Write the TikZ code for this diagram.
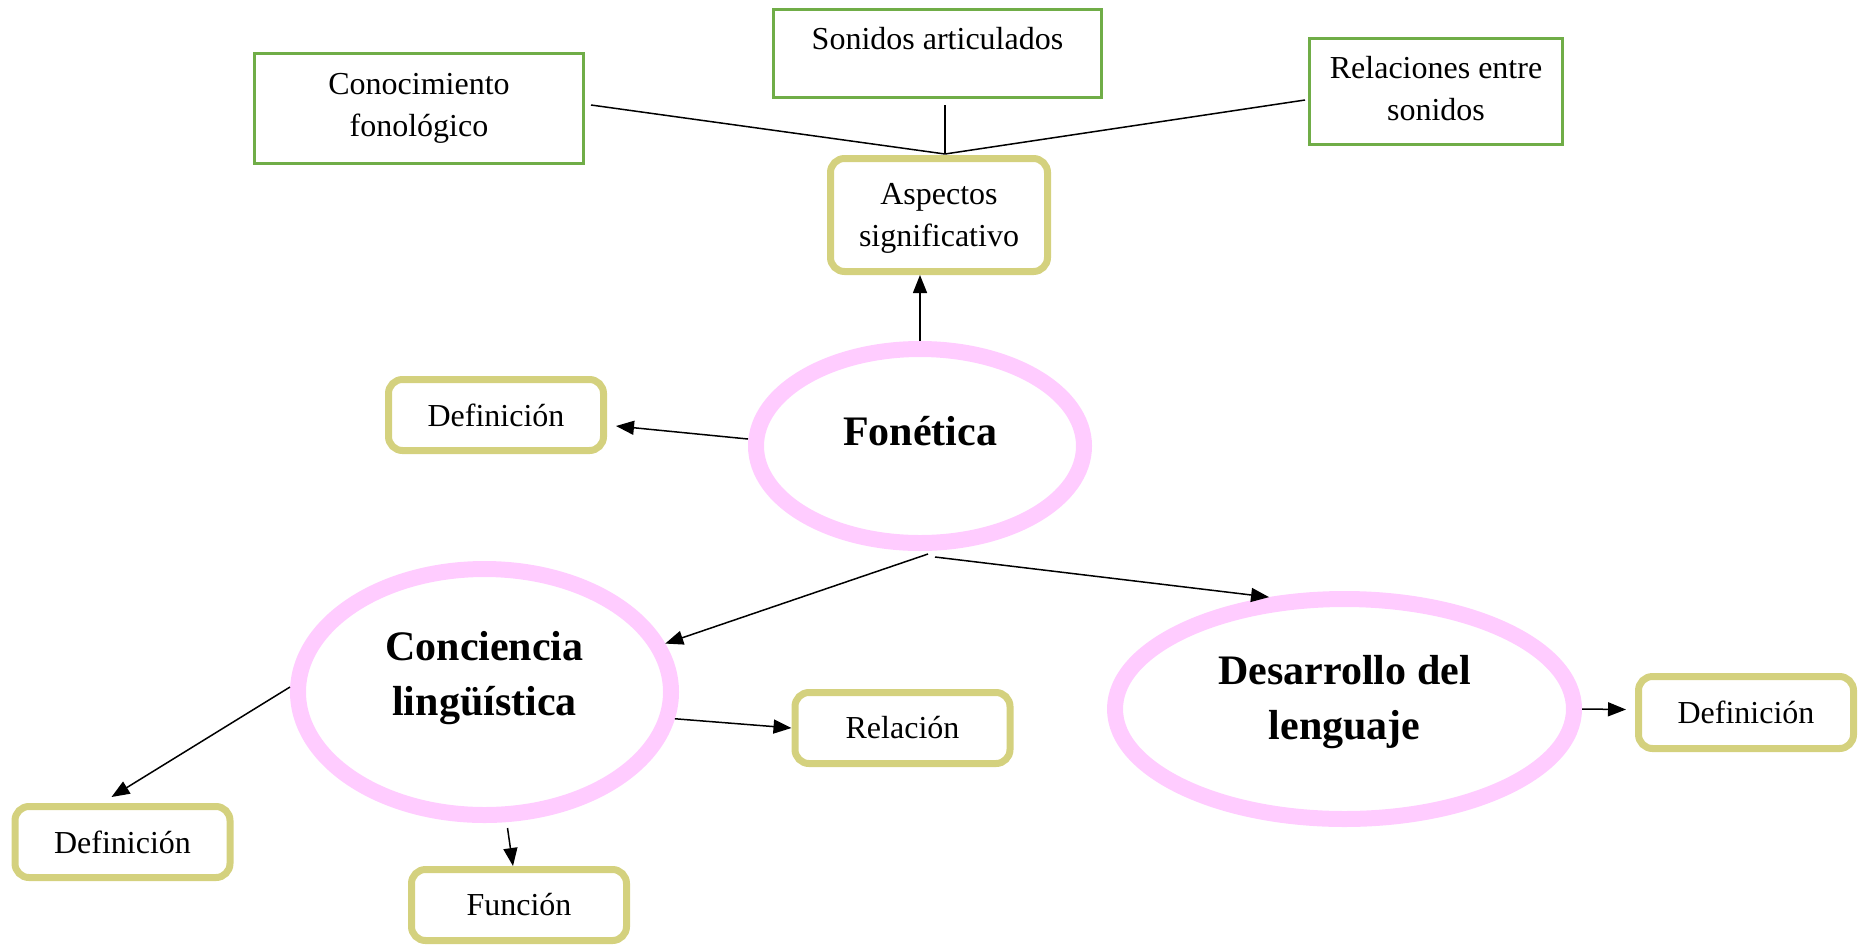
\documentclass[tikz,border=0pt]{standalone}
\usepackage{fontspec}
\setmainfont{Liberation Serif}
\usetikzlibrary{arrows.meta,shapes.geometric,calc}
\definecolor{boxgreen}{HTML}{70AD47}
\definecolor{boxolive}{HTML}{D4D17E}
\definecolor{ellpink}{HTML}{FFCCFF}
\begin{document}
\begin{tikzpicture}[x=1pt,y=-1pt,
  normal/.style={font=\fontsize{32}{42}\selectfont, align=center},
  bold/.style={font=\fontsize{42}{55}\selectfont\bfseries, align=center},
  gbox/.style={draw=boxgreen, line width=3pt, rectangle, inner sep=0pt, normal},
  obox/.style={draw=boxolive, line width=7pt, rectangle, rounded corners=14pt, inner sep=0pt, normal, minimum width=215pt, minimum height=71pt},
  ell/.style={draw=ellpink, line width=16pt, ellipse, inner sep=0pt},
  conn/.style={draw=black, line width=1.5pt},
  arr/.style={conn, -{Triangle[length=18pt,width=14pt]}}]
\useasboundingbox (0,0) rectangle (1865,946);

% top boxes
\node[gbox, minimum width=329pt, minimum height=110pt] (cono) at (419,108.5) {Conocimiento\\fonológico};
\node[gbox, minimum width=328pt, minimum height=88pt, label={[normal,yshift=14.5pt]center:Sonidos articulados}] (son) at (937.5,53.5) {};
\node[gbox, minimum width=253pt, minimum height=106pt, label={[normal,yshift=3pt]center:Relaciones entre\\sonidos}] (relac) at (1436,91.5) {};
\node[obox, minimum width=217pt, minimum height=113pt, label={[normal,yshift=-3pt]center:Aspectos\\significativo}] (asp) at (939,215) {};

% small boxes
\node[obox] (defa) at (496,415) {Definición};
\node[obox] (relb) at (902.5,728) {Relación};
\node[obox] (defb) at (122.5,842) {Definición};
\node[obox] (fun) at (519,905) {Función};
\node[obox, minimum height=72pt] (defc) at (1746,712.5) {Definición};

% ellipses
\node[ell, minimum width=328pt, minimum height=194pt, label={[bold,yshift=15pt]center:Fonética}] (fon) at (920,446) {};
\node[ell, minimum width=373pt, minimum height=246pt, label={[bold,yshift=14pt]center:Conciencia\\lingüística}] (conc) at (484.5,692) {};
\node[ell, minimum width=459pt, minimum height=220pt, label={[bold,yshift=7pt]center:Desarrollo del\\lenguaje}] (des) at (1344.5,709) {};

% connectors
\coordinate (jn) at (945,154);
\draw[conn] ([shift={(6,-3.5)}]cono.east) -- (jn);
\draw[conn] ($(jn |- son.south)+(0,6)$) -- (jn);
\draw[conn] ([shift={(-3,8.5)}]relac.west) -- (jn);

\draw[arr] (fon.north) -- (fon.north |- asp.south);
\draw[arr] ([shift={(0,-7)}]fon.west) -- ([shift={(9,11)}]defa.east);
\draw[arr] ([shift={(8,3)}]fon.south) -- (conc.15);
\draw[arr] ([shift={(15,6)}]fon.south) -- (des.124);
\draw[arr] ([shift={(0,-5)}]conc.west) -- ([shift={(-11,-6)}]defb.north);
\draw[arr] ([shift={(23,5)}]conc.south) -- ([shift={(-6,0)}]fun.north);
\draw[arr] (conc.-8) -- (relb.west);
\draw[arr] (des.east) -- ([shift={(-9,-3)}]defc.west);
\end{tikzpicture}
\end{document}
